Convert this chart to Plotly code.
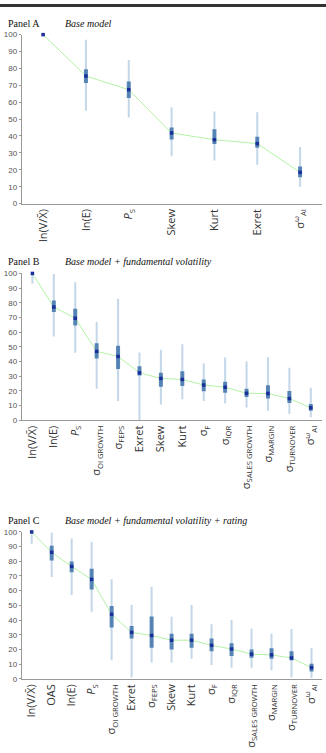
import plotly.graph_objects as go

W, H = 326, 753

# ---------------- data ----------------
A_labels = ["ln(V/X̄)", "ln(E)", "<i>P</i><sub>S</sub>", "Skew", "Kurt", "Exret",
            "σ<sup>ω</sup><sub>AI</sub>"]
A_median = [100, 75.5, 67.4, 41.8, 37.8, 35.5, 18.5]
A_q1 = [100, 71.3, 62.5, 38.0, 35.2, 33.0, 15.6]
A_q3 = [100, 79.5, 72.3, 45.0, 44.0, 39.5, 22.0]
A_lo = [100, 55.0, 51.0, 28.0, 25.5, 23.0, 10.0]
A_hi = [100, 97.0, 85.0, 57.0, 54.5, 54.0, 33.5]

B_labels = ["ln(V/X̄)", "ln(E)", "<i>P</i><sub>S</sub>", "σ<sub>OI GROWTH</sub>",
            "σ<sub>FEPS</sub>", "Exret", "Skew", "Kurt", "σ<sub>F</sub>", "σ<sub>IQR</sub>",
            "σ<sub>SALES GROWTH</sub>", "σ<sub>MARGIN</sub>", "σ<sub>TURNOVER</sub>",
            "σ<sup>ω</sup><sub>AI</sub>"]
B_median = [100, 77.1, 69.5, 46.9, 43.5, 32.3, 28.5, 27.8, 24.0, 22.5, 18.4, 18.2, 14.8, 8.5]
B_q1 = [100, 73.8, 64.5, 42.0, 35.0, 30.5, 22.9, 23.3, 19.7, 18.8, 15.9, 14.8, 11.7, 6.5]
B_q3 = [100, 81.6, 76.0, 52.5, 50.7, 36.8, 32.3, 33.4, 27.8, 26.2, 21.5, 23.8, 20.0, 11.0]
B_lo = [93, 57.0, 46.0, 21.5, 13.2, 0.0, 10.8, 14.3, 13.2, 11.4, 8.7, 6.5, 4.3, 2.0]
B_hi = [100, 99.6, 94.0, 67.0, 82.7, 46.2, 48.0, 51.8, 38.6, 42.8, 40.0, 43.0, 35.7, 22.2]

C_labels = ["ln(V/X̄)", "OAS", "ln(E)", "<i>P</i><sub>S</sub>", "σ<sub>OI GROWTH</sub>",
            "Exret", "σ<sub>FEPS</sub>", "Skew", "Kurt", "σ<sub>F</sub>", "σ<sub>IQR</sub>",
            "σ<sub>SALES GROWTH</sub>", "σ<sub>MARGIN</sub>", "σ<sub>TURNOVER</sub>",
            "σ<sup>ω</sup><sub>AI</sub>"]
C_median = [100, 86.1, 76.5, 67.7, 43.9, 31.6, 29.5, 26.3, 26.3, 22.8, 20.3, 16.8, 16.3, 14.2, 7.6]
C_q1 = [100, 80.5, 72.6, 60.8, 35.0, 27.4, 21.1, 20.0, 21.1, 18.8, 15.5, 14.3, 13.7, 12.6, 5.0]
C_q3 = [100, 90.6, 79.8, 74.9, 49.6, 36.0, 42.4, 30.7, 30.7, 27.4, 24.2, 20.0, 20.9, 18.8, 10.3]
C_lo = [92, 69.3, 57.0, 45.7, 12.6, 1.0, 11.2, 11.0, 13.7, 9.4, 7.6, 7.6, 5.8, 1.0, 0.5]
C_hi = [100, 99.5, 95.5, 93.3, 67.7, 50.2, 62.6, 42.2, 50.2, 37.2, 40.1, 34.1, 30.9, 34.0, 21.0]

y_ticks = list(range(0, 101, 10))

panels = [
    ("Panel A", "Base model", A_labels, A_median, A_q1, A_q3, A_lo, A_hi, (31, 202), 20),
    ("Panel B", "Base model + fundamental volatility", B_labels, B_median, B_q1, B_q3, B_lo, B_hi, (272.7, 421.3), 261),
    ("Panel C", "Base model + fundamental volatility + rating", C_labels, C_median, C_q1, C_q3, C_lo, C_hi, (534.3, 683), 522.5),
]

WHISKER = "rgba(135,175,212,0.5)"
BOX = "rgba(62,115,170,0.85)"
MED = "#1a2f9a"
LINE = "#b4f2a6"

fig = go.Figure()
annotations = []


def segs(xs, a, b):
    X, Y = [], []
    for x, lo, hi in zip(xs, a, b):
        X += [x, x, None]
        Y += [lo, hi, None]
    return X, Y


for i, (pname, ptitle, labels, med, q1, q3, lo, hi, (top, bot), ty) in enumerate(panels):
    k = "" if i == 0 else str(i + 1)
    xs = list(range(len(labels)))
    xa, ya = "x" + k, "y" + k
    wx, wy = segs(xs, lo, hi)
    fig.add_trace(go.Scatter(x=wx, y=wy, mode="lines", line=dict(color=WHISKER, width=2),
                             xaxis=xa, yaxis=ya, hoverinfo="skip", showlegend=False, cliponaxis=False))
    fig.add_trace(go.Scatter(x=xs, y=med, mode="lines", line=dict(color=LINE, width=1),
                             xaxis=xa, yaxis=ya, hoverinfo="skip", showlegend=False, cliponaxis=False))
    bx, by = segs(xs, q1, q3)
    fig.add_trace(go.Scatter(x=bx, y=by, mode="lines", line=dict(color=BOX, width=4),
                             xaxis=xa, yaxis=ya, hoverinfo="skip", showlegend=False, cliponaxis=False))
    fig.add_trace(go.Scatter(x=xs, y=med, mode="markers",
                             marker=dict(color=MED, size=3.5, symbol="square", line=dict(width=0)),
                             xaxis=xa, yaxis=ya, showlegend=False, cliponaxis=False))

    dom_y = [1 - bot / H, 1 - top / H]
    fig.layout["xaxis" + k] = dict(
        domain=[21.7 / W, 321.5 / W], anchor=ya, range=[-0.5, len(labels) - 0.5],
        tickmode="array", tickvals=xs, ticktext=labels, tickangle=-90,
        showline=True, linecolor="#999", linewidth=1, ticks="", showgrid=False, zeroline=False,
        tickfont=dict(family="Open Sans, Liberation Sans, sans-serif", size=11, color="#333"),
        fixedrange=True,
    )
    fig.layout["yaxis" + k] = dict(
        domain=dom_y, anchor=xa, range=[0, 100], tickmode="array", tickvals=y_ticks,
        showline=True, linecolor="#999", linewidth=1, ticks="outside", ticklen=2, tickcolor="#999",
        showgrid=False, zeroline=False,
        tickfont=dict(family="Liberation Sans, Arial, sans-serif", size=8, color="#555"),
        fixedrange=True,
    )
    annotations.append(dict(text=pname, x=6 / W, y=1 - ty / H, xref="paper", yref="paper",
                            xanchor="left", yanchor="middle", showarrow=False,
                            font=dict(family="Liberation Serif, serif", size=10, color="#111")))
    annotations.append(dict(text="<i>" + ptitle + "</i>", x=63 / W, y=1 - ty / H, xref="paper", yref="paper",
                            xanchor="left", yanchor="middle", showarrow=False,
                            font=dict(family="Liberation Serif, serif", size=10, color="#111")))

fig.update_layout(
    width=W, height=H, margin=dict(l=0, r=0, t=0, b=0),
    paper_bgcolor="white", plot_bgcolor="white",
    annotations=annotations,
    shapes=[dict(type="line", xref="paper", yref="paper", x0=0, x1=1, y0=1 - 1.5 / H, y1=1 - 1.5 / H,
                 line=dict(color="#333", width=3))],
)

fig.write_html("out.html", config={"displayModeBar": False})
